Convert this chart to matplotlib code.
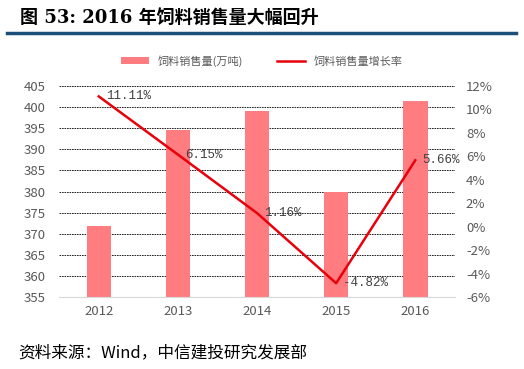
import matplotlib
matplotlib.use("Agg")
import matplotlib.pyplot as plt
from matplotlib.lines import Line2D

plt.rcParams['font.family'] = ['Noto Sans CJK SC', 'DejaVu Sans']

years = ['2012', '2013', '2014', '2015', '2016']
sales = [371.8, 394.6, 399.1, 380.0, 401.4]          # 饲料销售量(万吨)
growth = [11.11, 6.15, 1.16, -4.82, 5.66]            # 增长率 %
growth_labels = ['11.11%', '6.15%', '1.16%', '-4.82%', '5.66%']
left_ticks = list(range(355, 406, 5))
right_ticks = list(range(-6, 13, 2))

bar_color = '#FF7C80'
line_color = '#E8000B'
grey = '#595959'

fig = plt.figure(figsize=(5.24, 3.69), dpi=100)

# title + rule
fig.text(0.038, 0.95, '图 53: 2016 年饲料销售量大幅回升', fontsize=13,
         fontweight='bold', color='black', va='center',
         family=['DejaVu Serif', 'Noto Sans CJK SC'])
fig.add_artist(Line2D([0.013, 0.985], [0.91, 0.91], color='#1B4F7A', lw=2.5))

ax = fig.add_axes([0.113, 0.195, 0.755, 0.572])
x = range(len(years))
ax.bar(x, sales, width=0.31, color=bar_color, zorder=2, label='饲料销售量(万吨)')
ax.set_ylim(355, 405)
ax.set_yticks(left_ticks)
ax.set_xlim(-0.5, len(years) - 0.5)
ax.set_xticks(list(x))
ax.set_xticklabels(years)
ax.grid(axis='y', color='black', linestyle=(0, (2, 1)), lw=0.6, zorder=0)
for s in ['top', 'right', 'left']:
    ax.spines[s].set_visible(False)
ax.spines['bottom'].set_color('#D9D9D9')
ax.tick_params(length=0, colors=grey, labelsize=9.5)
ax.tick_params(axis='x', pad=6)
ax.tick_params(axis='y', pad=10)

ax2 = ax.twinx()
ax2.plot(list(x), growth, color=line_color, lw=1.8, zorder=3, label='饲料销售量增长率')
ax2.set_ylim(-6, 12)
ax2.set_yticks(right_ticks)
ax2.set_yticklabels([f'{t}%' for t in right_ticks])
for s in ax2.spines.values():
    s.set_visible(False)
ax2.tick_params(length=0, colors=grey, labelsize=9.5, pad=8)

for i, (g, lab) in enumerate(zip(growth, growth_labels)):
    ax2.annotate(lab, (i, g), xytext=(5, 0), textcoords='offset points',
                 fontsize=9, color='#404040', va='center', ha='left',
                 family=['Liberation Mono', 'DejaVu Sans Mono'])

h1, l1 = ax.get_legend_handles_labels()
h2, l2 = ax2.get_legend_handles_labels()
fig.legend(h1 + h2, l1 + l2, loc='center', bbox_to_anchor=(0.5, 0.835), ncol=2,
           frameon=False, fontsize=8, labelcolor=grey, handlelength=2.5,
           handleheight=0.6, columnspacing=3)

fig.text(0.035, 0.045, '资料来源：Wind，中信建投研究发展部', fontsize=12,
         color='black', va='center', style='italic')

fig.savefig('out.png', dpi=100)
